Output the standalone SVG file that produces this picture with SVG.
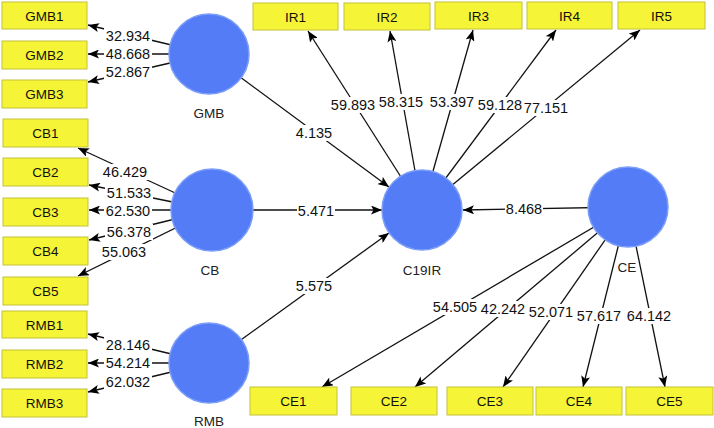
<svg xmlns="http://www.w3.org/2000/svg" width="714" height="428" viewBox="0 0 714 428">
<style>
.box{fill:#f6f436;stroke:#c2c23a;stroke-width:1}
.bt{font-family:"Liberation Sans",Arial,sans-serif;font-size:13.5px;fill:#111;text-anchor:middle;dominant-baseline:central}
.lv{fill:#537cf6;stroke:#7c9ef8;stroke-width:1.5}
.nt{font-family:"Liberation Sans",Arial,sans-serif;font-size:13.5px;fill:#222;text-anchor:middle;dominant-baseline:central}
.e{stroke:#111;stroke-width:1.3;fill:none;marker-end:url(#ah)}
.lb{fill:#fff}
.lt{font-family:"Liberation Sans",Arial,sans-serif;font-size:14.5px;fill:#111;text-anchor:middle;dominant-baseline:central}
</style>
<defs>
<marker id="ah" viewBox="0 0 11 9" refX="11" refY="4.5" markerWidth="11" markerHeight="9" markerUnits="userSpaceOnUse" orient="auto">
<path d="M0,0 L11,4.5 L0,9 L2.5,4.5 z" fill="#000"/>
</marker>
</defs>
<rect width="714" height="428" fill="#fff"/>
<g id="connectors">
<line class="e" x1="209" y1="54" x2="88" y2="25"/>
<line class="e" x1="209" y1="54" x2="88" y2="54"/>
<line class="e" x1="209" y1="54" x2="88" y2="82"/>
<line class="e" x1="212" y1="210" x2="78" y2="148"/>
<line class="e" x1="212" y1="210" x2="89" y2="185"/>
<line class="e" x1="212" y1="210" x2="89" y2="210"/>
<line class="e" x1="212" y1="210" x2="89" y2="240"/>
<line class="e" x1="212" y1="210" x2="78" y2="276"/>
<line class="e" x1="209" y1="363" x2="88" y2="334"/>
<line class="e" x1="209" y1="363" x2="88" y2="363"/>
<line class="e" x1="209" y1="363" x2="88" y2="392"/>
<line class="e" x1="422" y1="210" x2="308" y2="31"/>
<line class="e" x1="422" y1="210" x2="390" y2="31"/>
<line class="e" x1="422" y1="210" x2="473" y2="30"/>
<line class="e" x1="422" y1="210" x2="556" y2="30"/>
<line class="e" x1="422" y1="210" x2="640" y2="30"/>
<line class="e" x1="209" y1="54" x2="389" y2="187"/>
<line class="e" x1="212" y1="210" x2="382" y2="210"/>
<line class="e" x1="209" y1="363" x2="389" y2="233"/>
<line class="e" x1="628" y1="207" x2="463" y2="210"/>
<line class="e" x1="628" y1="207" x2="322" y2="387"/>
<line class="e" x1="628" y1="207" x2="415" y2="387"/>
<line class="e" x1="628" y1="207" x2="503" y2="387"/>
<line class="e" x1="628" y1="207" x2="583" y2="387"/>
<line class="e" x1="628" y1="207" x2="665" y2="387"/>
<g id="labels">
<rect class="lb" x="104" y="28" width="48" height="16"/><text class="lt" x="128" y="36">32.934</text>
<rect class="lb" x="104" y="46" width="48" height="16"/><text class="lt" x="128" y="54">48.668</text>
<rect class="lb" x="104" y="64" width="48" height="16"/><text class="lt" x="128" y="72">52.867</text>
<rect class="lb" x="101" y="164" width="48" height="16"/><text class="lt" x="125" y="172">46.429</text>
<rect class="lb" x="105" y="185" width="48" height="16"/><text class="lt" x="129" y="193">51.533</text>
<rect class="lb" x="104" y="203" width="48" height="16"/><text class="lt" x="128" y="211">62.530</text>
<rect class="lb" x="105" y="224" width="48" height="16"/><text class="lt" x="129" y="232">56.378</text>
<rect class="lb" x="100" y="244" width="48" height="16"/><text class="lt" x="124" y="252">55.063</text>
<rect class="lb" x="104" y="337" width="48" height="16"/><text class="lt" x="128" y="345">28.146</text>
<rect class="lb" x="104" y="355" width="48" height="16"/><text class="lt" x="128" y="363">54.214</text>
<rect class="lb" x="104" y="374" width="48" height="16"/><text class="lt" x="128" y="382">62.032</text>
<rect class="lb" x="330" y="97" width="47" height="16"/><text class="lt" x="353" y="105">59.893</text>
<rect class="lb" x="378" y="94" width="47" height="16"/><text class="lt" x="401" y="102">58.315</text>
<rect class="lb" x="429" y="94" width="47" height="16"/><text class="lt" x="452" y="102">53.397</text>
<rect class="lb" x="477" y="97" width="46" height="16"/><text class="lt" x="500" y="105">59.128</text>
<rect class="lb" x="524" y="100" width="45" height="16"/><text class="lt" x="546" y="108">77.151</text>
<rect class="lb" x="296" y="125" width="37" height="16"/><text class="lt" x="314" y="133">4.135</text>
<rect class="lb" x="297" y="203" width="38" height="16"/><text class="lt" x="316" y="211">5.471</text>
<rect class="lb" x="296" y="278" width="37" height="16"/><text class="lt" x="314" y="286">5.575</text>
<rect class="lb" x="505" y="201" width="38" height="16"/><text class="lt" x="524" y="209">8.468</text>
<rect class="lb" x="431" y="299" width="48" height="16"/><text class="lt" x="455" y="307">54.505</text>
<rect class="lb" x="479" y="301" width="48" height="16"/><text class="lt" x="503" y="309">42.242</text>
<rect class="lb" x="527" y="304" width="48" height="16"/><text class="lt" x="551" y="312">52.071</text>
<rect class="lb" x="575" y="308" width="48" height="16"/><text class="lt" x="599" y="316">57.617</text>
<rect class="lb" x="625" y="308" width="48" height="16"/><text class="lt" x="649" y="316">64.142</text>
</g>
</g>
<g id="GMB"><circle class="lv" cx="209" cy="54" r="40"/><text class="nt" x="209" y="113">GMB</text></g>
<g id="CB"><circle class="lv" cx="212" cy="210" r="41"/><text class="nt" x="210" y="270">CB</text></g>
<g id="RMB"><circle class="lv" cx="209" cy="363" r="40"/><text class="nt" x="209" y="421">RMB</text></g>
<g id="C19IR"><circle class="lv" cx="422" cy="210" r="40"/><text class="nt" x="422" y="270">C19IR</text></g>
<g id="CE"><circle class="lv" cx="628" cy="207" r="40"/><text class="nt" x="627" y="267">CE</text></g>
<g id="GMB1"><rect class="box" x="2" y="2" width="85" height="27"/><text class="bt" x="44.5" y="16">GMB1</text></g>
<g id="GMB2"><rect class="box" x="2" y="41" width="85" height="28"/><text class="bt" x="44.5" y="55">GMB2</text></g>
<g id="GMB3"><rect class="box" x="2" y="80" width="85" height="28"/><text class="bt" x="44.5" y="94">GMB3</text></g>
<g id="CB1"><rect class="box" x="3" y="119" width="85" height="28"/><text class="bt" x="45.5" y="133">CB1</text></g>
<g id="CB2"><rect class="box" x="3" y="158" width="85" height="28"/><text class="bt" x="45.5" y="172">CB2</text></g>
<g id="CB3"><rect class="box" x="3" y="198" width="85" height="28"/><text class="bt" x="45.5" y="212">CB3</text></g>
<g id="CB4"><rect class="box" x="3" y="237" width="85" height="28"/><text class="bt" x="45.5" y="251">CB4</text></g>
<g id="CB5"><rect class="box" x="3" y="277" width="85" height="28"/><text class="bt" x="45.5" y="291">CB5</text></g>
<g id="RMB1"><rect class="box" x="2" y="311" width="85" height="27"/><text class="bt" x="44.5" y="325">RMB1</text></g>
<g id="RMB2"><rect class="box" x="2" y="350" width="85" height="28"/><text class="bt" x="44.5" y="364">RMB2</text></g>
<g id="RMB3"><rect class="box" x="2" y="389" width="85" height="28"/><text class="bt" x="44.5" y="403">RMB3</text></g>
<g id="IR1"><rect class="box" x="253" y="3" width="85" height="27"/><text class="bt" x="295.5" y="17">IR1</text></g>
<g id="IR2"><rect class="box" x="344" y="3" width="86" height="27"/><text class="bt" x="387" y="17">IR2</text></g>
<g id="IR3"><rect class="box" x="435" y="2" width="87" height="27"/><text class="bt" x="478.5" y="16">IR3</text></g>
<g id="IR4"><rect class="box" x="527" y="2" width="85" height="27"/><text class="bt" x="569.5" y="16">IR4</text></g>
<g id="IR5"><rect class="box" x="618" y="2" width="87" height="27"/><text class="bt" x="661.5" y="16">IR5</text></g>
<g id="CE1"><rect class="box" x="250" y="387" width="87" height="28"/><text class="bt" x="293.5" y="401">CE1</text></g>
<g id="CE2"><rect class="box" x="351" y="387" width="86" height="28"/><text class="bt" x="394" y="401">CE2</text></g>
<g id="CE3"><rect class="box" x="447" y="387" width="86" height="28"/><text class="bt" x="490" y="401">CE3</text></g>
<g id="CE4"><rect class="box" x="536" y="387" width="86" height="28"/><text class="bt" x="579" y="401">CE4</text></g>
<g id="CE5"><rect class="box" x="626" y="387" width="87" height="28"/><text class="bt" x="669.5" y="401">CE5</text></g>
</svg>
